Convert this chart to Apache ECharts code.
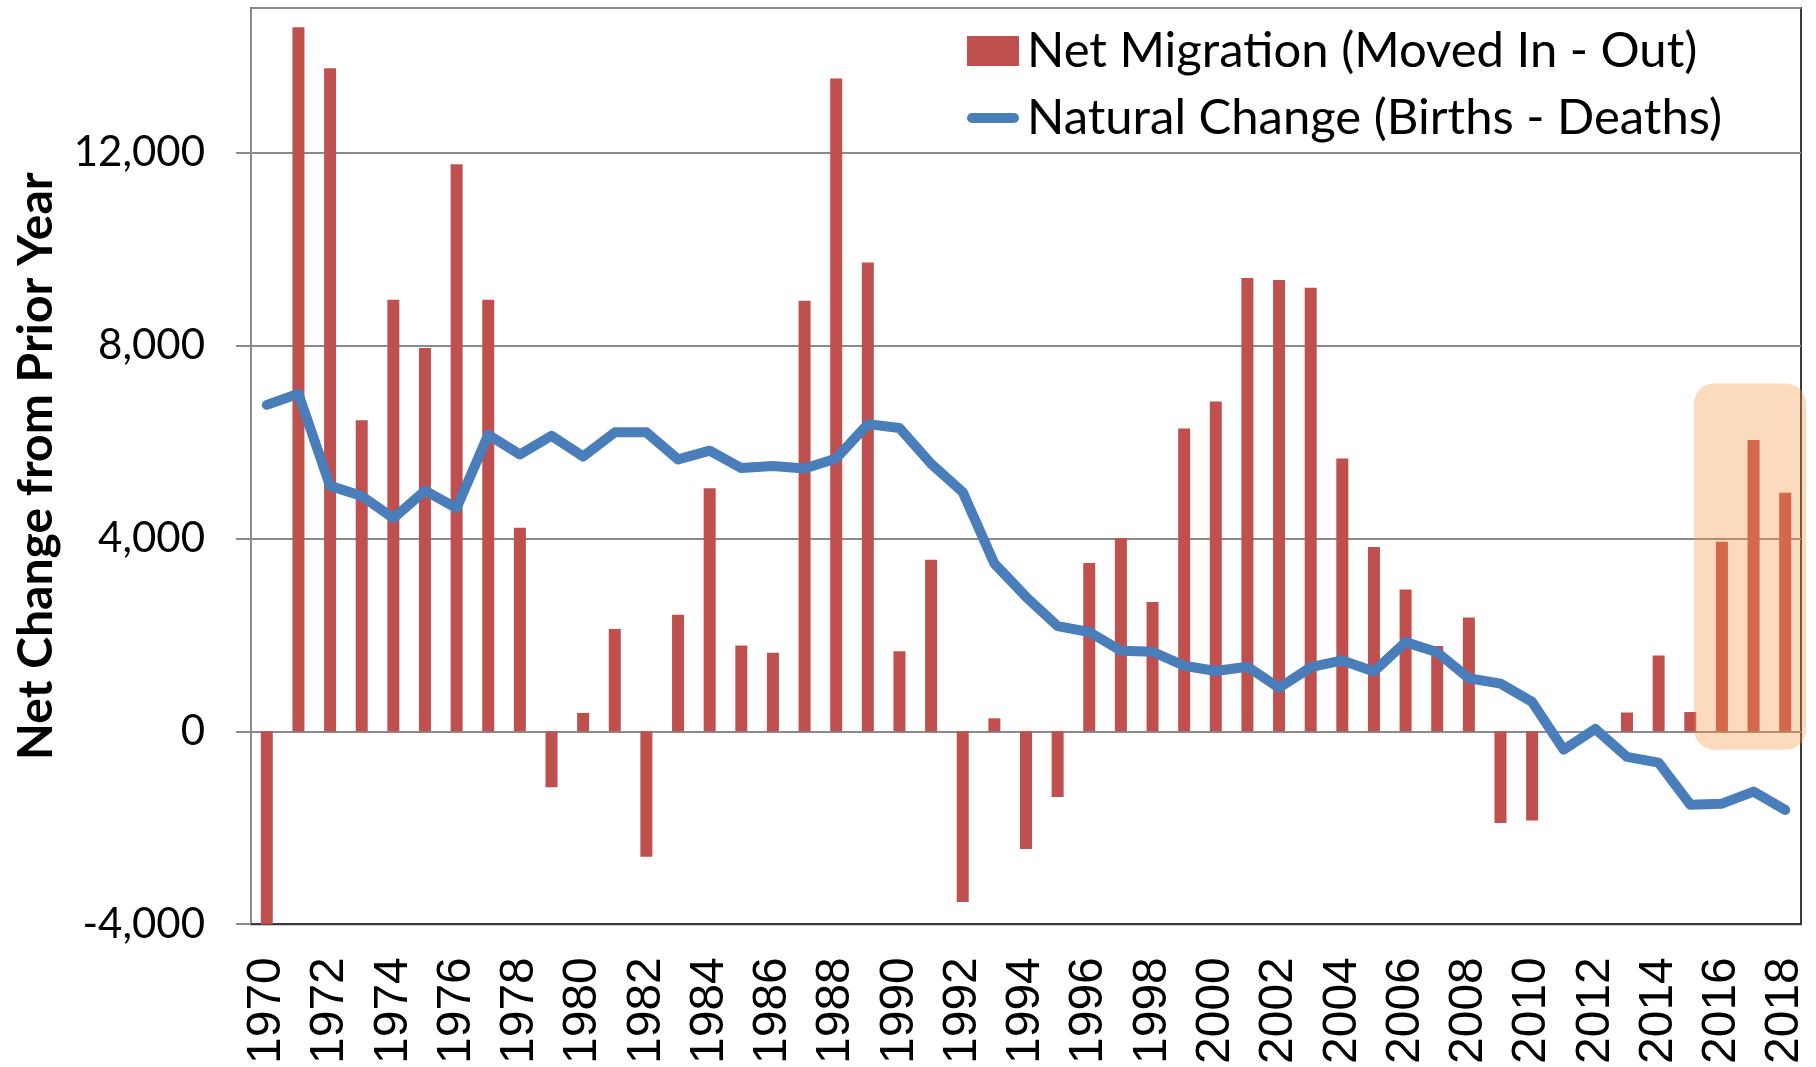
<!DOCTYPE html>
<html>
<head>
<meta charset="utf-8">
<script src="https://cdn.jsdelivr.net/npm/echarts@6/dist/echarts.min.js"></script>
<style>
  html, body { margin: 0; padding: 0; background: #fff; }
  #chart { width: 1816px; height: 1067px; }
</style>
</head>
<body>
<div id="chart"></div>
<script>
// categories
const years = [
  "1970", "1971", "1972", "1973", "1974", "1975", "1976", "1977", "1978", "1979",
  "1980", "1981", "1982", "1983", "1984", "1985", "1986", "1987", "1988", "1989",
  "1990", "1991", "1992", "1993", "1994", "1995", "1996", "1997", "1998", "1999",
  "2000", "2001", "2002", "2003", "2004", "2005", "2006", "2007", "2008", "2009",
  "2010", "2011", "2012", "2013", "2014", "2015", "2016", "2017", "2018",
];

// moved in - moved out
const netMigration = [
  -4000, 14600, 13750, 6450, 8950, 7950, 11760, 8950, 4220, -1160,
  380, 2120, -2600, 2420, 5040, 1780, 1630, 8930, 13540, 9720,
  1660, 3560, -3540, 270, -2440, -1360, 3490, 4010, 2680, 6280,
  6840, 9400, 9360, 9200, 5660, 3820, 2940, 1770, 2360, -1900,
  -1850, 0, 0, 390, 1570, 400, 3930, 6040, 4950,
];

// births - deaths
const naturalChange = [
  6770, 7000, 5090, 4880, 4420, 4990, 4630, 6150, 5740, 6130,
  5700, 6200, 6200, 5640, 5820, 5460, 5500, 5450, 5660, 6370,
  6290, 5550, 4960, 3480, 2790, 2180, 2060, 1670, 1650, 1360,
  1250, 1340, 900, 1330, 1470, 1240, 1850, 1640, 1100, 990,
  610, -380, 50, -530, -650, -1520, -1500, -1250, -1630,
];

const seriesNames = ["Net Migration (Moved In - Out)", "Natural Change (Births - Deaths)"];

// shaded box round the last years (category index units / values)
const highlightX = [45.12, 48.66];
const highlightY = [-380, 7215];

const chart = echarts.init(document.getElementById("chart"), null, { renderer: "canvas" });

// thick rounded line for the legend entry of the line series
const lineIcon = "path://M5,0 L47,0 A5,5 0 0 1 47,10 L5,10 A5,5 0 0 1 5,0 Z";

const option = {
  animation: false,
  backgroundColor: "#ffffff",
  grid: {
    left: 251,
    right: 15,
    top: 8,
    bottom: 142,
    show: true,
    borderColor: "#3a3a3a",
    borderWidth: 2,
  },
  legend: {
    orient: "vertical",
    left: 967,
    top: 23,
    padding: 0,
    itemWidth: 52,
    itemHeight: 30,
    itemGap: 11,
    textStyle: {
      fontFamily: "Lato",
      fontSize: 49,
      color: "#000",
      lineHeight: 56,
      padding: [0, 0, 0, 3],
    },
    data: [
      { name: seriesNames[0], icon: "rect" },
      { name: seriesNames[1], icon: lineIcon },
    ],
  },
  xAxis: {
    type: "category",
    data: years,
    boundaryGap: true,
    axisLine: { onZero: false, lineStyle: { color: "#3a3a3a", width: 2 } },
    axisTick: { show: false },
    axisLabel: {
      interval: 1,
      rotate: 90,
      margin: 33,
      fontFamily: "Liberation Sans",
      fontSize: 48,
      color: "#000",
    },
  },
  yAxis: {
    type: "value",
    min: -4000,
    max: 15000,
    interval: 4000,
    name: "Net Change from Prior Year",
    nameLocation: "middle",
    nameRotate: 90,
    nameGap: 190,
    nameTextStyle: {
      fontFamily: "Lato",
      fontWeight: "bold",
      fontSize: 48,
      color: "#000",
    },
    axisLine: { show: true, lineStyle: { color: "#8a8a8a", width: 2 } },
    axisTick: { show: true, length: 15, lineStyle: { color: "#8a8a8a", width: 2 } },
    splitLine: { show: true, lineStyle: { color: "#8a8a8a", width: 2 } },
    axisLabel: {
      showMaxLabel: false,
      margin: 46,
      fontFamily: "Lato",
      fontSize: 42,
      color: "#000",
      formatter: (v) => v.toLocaleString("en-US"),
    },
  },
  series: [
    {
      name: seriesNames[0],
      type: "bar",
      data: netMigration,
      barWidth: 12,
      itemStyle: { color: "#C0504D" },
      z: 2,
    },
    {
      name: seriesNames[1],
      type: "line",
      data: naturalChange,
      symbol: "none",
      lineStyle: { color: "#4A7EBB", width: 10, cap: "round", join: "round" },
      itemStyle: { color: "#4A7EBB" },
      z: 3,
    },
  ],
};

chart.setOption(option);

// place the shaded box from data units
const c0 = chart.convertToPixel({ xAxisIndex: 0 }, 0);
const c1 = chart.convertToPixel({ xAxisIndex: 0 }, 1);
const band = c1 - c0;
const boxLeft = c0 + highlightX[0] * band;
const boxRight = c0 + highlightX[1] * band;
const boxTop = chart.convertToPixel({ yAxisIndex: 0 }, highlightY[1]);
const boxBottom = chart.convertToPixel({ yAxisIndex: 0 }, highlightY[0]);

chart.setOption({
  graphic: [
    {
      type: "rect",
      z: 10,
      shape: { x: boxLeft, y: boxTop, width: boxRight - boxLeft, height: boxBottom - boxTop, r: 20 },
      style: { fill: "rgba(247,150,70,0.35)" },
      silent: true,
    },
  ],
});
</script>
</body>
</html>
